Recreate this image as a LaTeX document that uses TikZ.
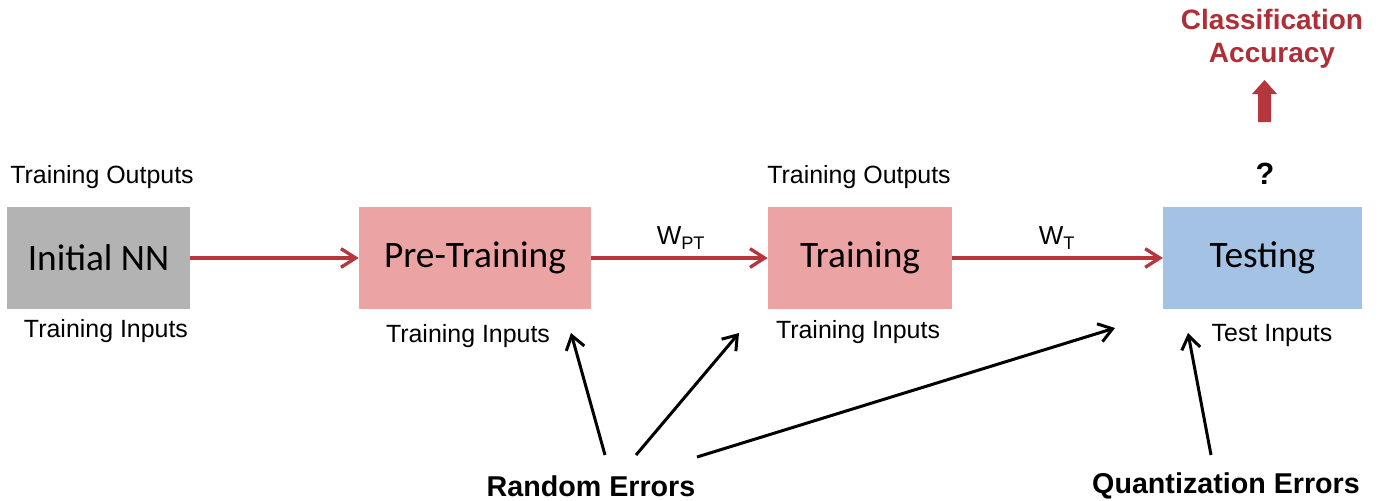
\documentclass[tikz,border=0pt]{standalone}
\usepackage{fontspec}
\setmainfont{Liberation Sans}
\newfontfamily\boxfont{Carlito}
\usetikzlibrary{arrows.meta}
\definecolor{nnred}{HTML}{B5373D}
\definecolor{nngray}{HTML}{B3B3B3}
\definecolor{nnpink}{HTML}{ECA3A4}
\definecolor{nnblue}{HTML}{A3C2E4}
\definecolor{accred}{HTML}{AE2F37}

\begin{document}
\begin{tikzpicture}[x=0.75pt,y=-0.75pt]
      \tikzset{stage/.style = {shape=rectangle,minimum height=76.5pt,inner sep=0pt,font=\boxfont\fontsize{28}{30}\selectfont}}
      \tikzset{lbl/.style = {inner sep=0pt,font=\fontsize{18.7}{21}\selectfont}}
      \tikzset{err/.style = {inner sep=0pt,font=\bfseries\fontsize{21.5}{24}\selectfont}}
      \tikzset{flow/.style = {->,draw=nnred,line width=2.5pt,> = {Straight Barb[length=11pt,width=14pt]}}}
      \tikzset{edge/.style = {->,line width=2.25pt,> = {Straight Barb[length=10pt,width=14pt]}}}
      \useasboundingbox (0,0) rectangle (1387,500);

      \node[stage,fill=nngray,minimum width=137pt] (init) at (98.5,258) {\raisebox{-3pt}{Initial NN}};
      \node[stage,fill=nnpink,minimum width=174pt] (pre) at (475,258) {Pre-Training};
      \node[stage,fill=nnpink,minimum width=138pt] (train) at (860,258) {Training};
      \node[stage,fill=nnblue,minimum width=149pt] (test) at (1262.5,258) {Testing};

      \node[lbl] (out1) at (102,177) {Training Outputs};
      \node[lbl] (in1) at (106,331) {Training Inputs};
      \node[lbl] (in2) at (468,336) {Training Inputs};
      \node[lbl] (out3) at (859,177) {Training Outputs};
      \node[lbl] (in3) at (858,332) {Training Inputs};
      \node[lbl] (in4) at (1272,336) {Test Inputs};

      \node[lbl,font=\fontsize{19.5}{22}\selectfont] (wpt) at (681,238) {W\textsubscript{PT}};
      \node[lbl,font=\fontsize{19.5}{22}\selectfont] (wt) at (1057,238) {W\textsubscript{T}};

      \node[err,font=\bfseries\fontsize{23}{24}\selectfont] (qm) at (1265,174) {?};
      \node[err,text=accred,align=center,font=\bfseries\fontsize{21}{24.75}\selectfont] (acc) at (1272,39) {Classification\\Accuracy};

      \node[err] (rnd) at (591,486) {Random Errors};
      \node[err] (qnt) at (1226,486) {Quantization Errors};

      \draw[flow] (init) to (pre);
      \draw[flow] (pre) to (train);
      \draw[flow] (train) to (test);

      % block arrow up to accuracy
      \fill[nnred] (1258,122) -- (1271,122) -- (1271,94) -- (1277,94) -- (1264.5,80)
        -- (1252,94) -- (1258,94) -- cycle;

      \coordinate (r1) at (605,455);
      \coordinate (r2) at (636,455);
      \coordinate (r3) at (697,457);
      \coordinate (q1) at (1211,455);
      \coordinate (t1) at (571,333);
      \coordinate (t2) at (739,333);
      \coordinate (t3) at (1115,328);
      \coordinate (t4) at (1188,333);

      \draw[edge] (r1) to (t1);
      \draw[edge] (r2) to (t2);
      \draw[edge] (r3) to (t3);
      \draw[edge] (q1) to (t4);
    \end{tikzpicture}
\end{document}
